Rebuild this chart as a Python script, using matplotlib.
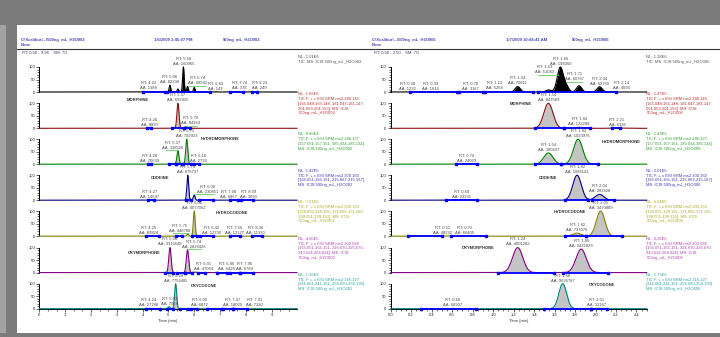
import numpy as np
import matplotlib
matplotlib.use("Agg")
import matplotlib.pyplot as plt
from matplotlib.ticker import MultipleLocator, FixedLocator, FormatStrFormatter

plt.rcParams['font.family'] = ['Liberation Sans', 'DejaVu Sans']

W, H = 720, 337

names = ["TIC", "MORPHINE", "HYDROMORPHONE", "CODEINE", "HYDROCODONE", "OXYMORPHONE", "OXYCODONE"]
trace_colors = ["#000000", "#8b1010", "#008000", "#000080", "#808000", "#800080", "#008080"]
info_colors = ["#505050", "#c03030", "#30a030", "#3838b8", "#a8a820", "#b040b0", "#30a0a0"]

transitions = [
    ["TIC  MS  ICIS {run}"],
    ["TIC F: + c ESI SRM ms2 286.145", "[165.048-165.148, 181.047-181.147,", "201.053-201.153]  MS  ICIS", "{run}"],
    ["TIC F: + c ESI SRM ms2 286.127", "[157.051-157.151, 185.034-185.134]", "MS  ICIS {run}"],
    ["TIC F: + c ESI SRM ms2 300.160", "[165.051-165.151, 215.067-215.167]", "MS  ICIS {run}"],
    ["TIC F: + c ESI SRM ms2 300.133", "[128.055-128.155, 171.066-171.166,", "199.051-199.151]  MS  ICIS", "{run}"],
    ["TIC F: + c ESI SRM ms2 302.086", "[165.051-165.151, 226.670-226.670,", "243.624-264.024]  MS  ICIS", "{run}"],
    ["TIC F: + c ESI SRM ms2 316.127", "[241.061-241.161, 256.090-256.190]", "MS  ICIS {run}"],
]

# ---- run 1 : 500ng_mL_H2O002
run1 = "500ng_mL_H2O002"
run1_file = "C:\\Xcalibur\\...\\500ng_mL_H2O002"
run1_date = "1/6/2009 3:45:07 PM"
run1_range = "RT: 0.00 - 9.96    SM: 7G"
run1_nl = ["1.01E6", "1.66E5", "8.86E4", "1.47E5", "7.01E5", "4.60E5", "1.36E6"]
run1_rt = [
    [4.22, 5.06, 5.37, 5.58, 5.74, 6.00, 6.83, 7.74, 8.23],
    [4.26, 5.37, 5.70],
    [4.28, 5.37, 5.71, 6.18],
    [4.27, 5.75, 6.00, 7.68, 8.09],
    [4.25, 5.75, 6.00, 6.42, 7.56, 8.36],
    [5.06, 5.74, 6.01, 6.86, 7.96],
    [4.24, 5.03, 5.28, 6.00, 7.47, 7.91],
]
run1_height = [
    [2, 27, 12, 100, 22, 18, 1, 2, 1.5],
    [2, 100, 7],
    [2, 53, 100, 2],
    [2, 100, 21, 1.5, 1],
    [2, 10, 100, 1.5, 1.5, 1.5],
    [100, 91, 2, 1, 1],
    [1.5, 8, 100, 1, 1.5, 1],
]
run1_area = [
    ["1388", "82238", None, "160965", "68582", None, "143", "378", "249"],
    ["8870", "692415", "84164"],
    ["20639", "338526", "792923", "2728"],
    ["14697", "876737", "230851", "6867", "3090"],
    ["89824", "448788", "4077062", "12730", "12127", "11330"],
    ["3316648", "2826426", "47064", "6428", "6789"],
    ["27788", "7064", "7754485", "6872", "18020", "7120"],
]
run1_sigma = [0.03, 0.04, 0.04, 0.035, 0.035, 0.045, 0.04]
run1_segments = [
    [(4.03, 4.87), (4.93, 6.61), (7.39, 7.89), (8.23, 8.42)],
    [(4.18, 4.34), (5.15, 5.62), (5.62, 5.82)],
    [(4.20, 4.31), (5.03, 5.30), (5.30, 5.53), (5.55, 5.87), (6.00, 6.18)],
    [(4.20, 4.45), (5.67, 5.88), (6.19, 6.74), (7.39, 7.70), (7.80, 8.29)],
    [(4.12, 4.65), (5.29, 5.51), (5.90, 6.10), (6.22, 6.74), (7.39, 7.77), (8.25, 8.61)],
    [(4.87, 5.19), (5.32, 5.64), (5.64, 5.90), (6.16, 6.42), (6.87, 7.26), (7.39, 7.77), (7.77, 8.29)],
    [(4.12, 4.67), (4.93, 5.19), (5.45, 5.77), (5.86, 6.10), (6.48, 7.06), (7.13, 7.51), (7.51, 8.03)],
]

# ---- run 2 : 500ng_mL_H2O006
run2 = "500ng_mL_H2O006"
run2_file = "C:\\Xcalibur\\...\\500ng_mL_H2O006"
run2_date = "1/7/2009 10:04:41 AM"
run2_range = "RT: 0.00 - 2.50    SM: 7G"
run2_nl = ["1.28E6", "1.47E5", "1.49E5", "2.01E5", "6.64E5", "6.26E5", "1.73E6"]
run2_rt = [
    [0.28, 0.39, 0.78, 1.13, 1.24, 1.54, 1.63, 1.66, 1.71, 1.84, 2.04, 2.14],
    [1.54, 1.84, 2.21],
    [0.74, 1.54, 1.83],
    [0.69, 1.82, 2.04],
    [0.51, 0.72, 1.82, 2.05],
    [1.24, 1.86],
    [0.60, 1.68, 2.01],
]
run2_height = [
    [1, 1, 1, 2, 26, 10, 30, 100, 32, 30, 25, 1.5],
    [100, 4, 1],
    [1.5, 45, 100],
    [1.5, 100, 23],
    [1, 1.5, 12, 100],
    [100, 94],
    [1, 100, 1.5],
]
run2_area = [
    ["1232", "1614", "3167", "5268", "70611", None, "61043", "198060", "60767", None, "62760", "4093"],
    ["847589", "122289", "6136"],
    ["24029", "380437", "1023976"],
    ["23231", "1086141", "283828"],
    ["48232", "66405", "737076", "3470889"],
    ["4001282", "3432829"],
    ["68907", "9626787", "33167"],
]
run2_sigma = [0.025, 0.045, 0.045, 0.042, 0.042, 0.05, 0.038]
run2_segments = [
    [(0.19, 0.65), (0.67, 0.90), (0.92, 1.39), (1.44, 2.20)],
    [(1.41, 1.69), (1.69, 1.95), (2.16, 2.24)],
    [(0.64, 0.84), (1.41, 1.66), (1.66, 2.02)],
    [(0.54, 0.84), (1.70, 1.93), (1.97, 2.18)],
    [(0.17, 0.50), (0.59, 0.93), (1.70, 1.91), (1.91, 2.26)],
    [(1.045, 1.59), (1.685, 2.125)],
    [(0.30, 0.83), (1.50, 1.955), (1.955, 2.11)],
]

# ---- layout (pixels)
ROW_BASE = [92, 128.3, 164.2, 200.2, 236.2, 272.6, 308.7]
INFO_Y = [57, 94.3, 134.3, 171, 202.3, 239, 275]
pages = [
    dict(x0=39.3, ppm=25.82, xmax=9.98, major=1, minor=1 / 3, fmt="%d", side_x=298.5, clip=366,
         hx=[21, 154.5, 222.5], rx=22.5,
         name_pos=[None, (137.7, 100), (220, 139.5), (160, 177.7), (232, 212.7), (144.5, 252.7), (203.7, 286)],
         dx={(0, 5.74): 10, (0, 8.23): 8, (1, 5.70): 4, (2, 5.37): -5, (3, 6.00): 13, (3, 7.68): -9,
             (4, 5.75): -8, (4, 6.42): 6, (5, 5.74): 6, (5, 6.01): 9, (5, 6.86): 10, (6, 6.00): 5, (6, 7.91): 11}),
    dict(x0=390.7, ppm=102.4, xmax=2.5, major=0.2, minor=0.05, fmt="%.1f", side_x=646.5, clip=720,
         hx=[372, 505.7, 572], rx=374,
         name_pos=[None, (520.7, 104.3), (620.8, 141.7), (548, 177.7), (570.3, 211.7), (478.5, 248.3), (602.5, 285)],
         dx={(0, 0.28): -12, (0, 1.13): -12, (0, 1.63): -13, (0, 1.71): 9, (0, 2.14): 12}),
]

fig = plt.figure(figsize=(W / 100, H / 100), dpi=100, facecolor="#7b7b7b")

bg = fig.add_axes([0, 0, 1, 1])
bg.set_xlim(0, W)
bg.set_ylim(H, 0)
bg.axis("off")
bg.add_patch(plt.Rectangle((0, 25), 5.5, 308, color="#a3a3a3", lw=0))
bg.add_patch(plt.Rectangle((17, 25), W - 17, 308, color="white", lw=0))
bg.plot([17, W], [48.5, 48.5], color="#333333", lw=0.8)


def draw_page(p, run, fname, date, rng, nls, rts, heights, areas, sigmas, segs):
    hc = "#4848b8"
    bg.text(p["hx"][0], 40.3, fname, fontsize=3, color=hc, fontweight="bold", va="center")
    bg.text(p["hx"][1], 40.3, date, fontsize=3, color=hc, fontweight="bold", va="center")
    bg.text(p["hx"][2], 40.3, run, fontsize=3, color=hc, fontweight="bold", va="center")
    bg.text(p["hx"][0], 45.3, "None", fontsize=3, color=hc, fontweight="bold", va="center")
    bg.text(p["rx"], 53.3, rng, fontsize=3, color="#40407a", va="center")

    cl = fig.add_axes([0, 0, p["clip"] / W, 1])
    cl.set_xlim(0, p["clip"])
    cl.set_ylim(H, 0)
    cl.axis("off")
    cl.patch.set_alpha(0)

    t = np.linspace(0, p["xmax"], 6000)
    ppm = p["ppm"]
    for i in range(7):
        base = ROW_BASE[i]
        ax = fig.add_axes([p["x0"] / W, 1 - base / H, p["xmax"] * ppm / W, 25 / H])
        ax.set_xlim(0, p["xmax"])
        ax.set_ylim(0, 100)
        ax.patch.set_alpha(0)
        for s in ("top", "right"):
            ax.spines[s].set_visible(False)
        ax.spines["left"].set_linewidth(0.7)
        ax.spines["bottom"].set_linewidth(0.7)

        y = np.zeros_like(t)
        for r, h in zip(rts[i], heights[i]):
            y += h * np.exp(-0.5 * ((t - r) / sigmas[i]) ** 2)
        y *= 100 / y.max()
        ax.fill_between(t, 0, y, color="black" if i == 0 else "#c4c4c4", lw=0)
        ax.plot(t, y, color=trace_colors[i], lw=0.8, clip_on=False, zorder=3)
        for a, b in segs[i]:
            ax.plot([a, b], [0, 0], color="#0000ff", lw=1.3, marker="s", ms=1.7,
                    solid_capstyle="butt", clip_on=False, zorder=4)

        for r, area in zip(rts[i], areas[i]):
            if area is None:
                continue
            apex = float(np.interp(r, t, y))
            dx = p["dx"].get((i, r), 0)
            xl = r + dx / ppm
            ax.annotate(f"RT: {r:.2f}", xy=(xl, apex), xytext=(0, 5.9), textcoords="offset points",
                        ha="center", va="center", fontsize=3, color="#4a4a4a", annotation_clip=False)
            ax.annotate(f"AA: {area}", xy=(xl, apex), xytext=(0, 2.3), textcoords="offset points",
                        ha="center", va="center", fontsize=3, color="#4a4a4a", annotation_clip=False)
            if abs(dx) >= 4 and apex > 4:
                ax.plot([r, xl + np.sign(dx) * 7 / ppm], [apex + 3, apex + 3], color="#66cc66",
                        lw=0.6, clip_on=False, zorder=5)

        ax.yaxis.set_major_locator(FixedLocator([0, 50, 100]))
        ax.yaxis.set_minor_locator(MultipleLocator(10))
        ax.yaxis.set_major_formatter(FormatStrFormatter("%d"))
        ax.tick_params(axis="y", which="major", length=2.2, width=0.5, labelsize=3, pad=0.8, colors="#222222")
        ax.tick_params(axis="y", which="minor", length=1.3, width=0.4)
        if i < 6:
            ax.set_xticks([])
            ax.spines["bottom"].set_visible(False)
        else:
            ax.xaxis.set_major_locator(MultipleLocator(p["major"]))
            ax.xaxis.set_minor_locator(MultipleLocator(p["minor"]))
            ax.xaxis.set_major_formatter(FormatStrFormatter(p["fmt"]))
            ax.tick_params(axis="x", which="major", length=2.2, width=0.5, labelsize=3, pad=1, colors="#222222")
            ax.tick_params(axis="x", which="minor", length=1.5, width=0.4)
            ax.set_xlabel("Time (min)", fontsize=3, labelpad=1.5, color="#333333")

        if p["name_pos"][i] is not None:
            nx, ny = p["name_pos"][i]
            bg.text(nx, ny, names[i], fontsize=3, color="#333333", fontweight="bold", ha="center", va="center")

        lines = ["NL: " + nls[i]] + [s.format(run=run) for s in transitions[i]]
        for k, s in enumerate(lines):
            cl.text(p["side_x"], INFO_Y[i] + k * 4.75, s, fontsize=3, color=info_colors[i],
                    va="center", ha="left", clip_on=True)


draw_page(pages[0], run1, run1_file, run1_date, run1_range, run1_nl, run1_rt, run1_height,
          run1_area, run1_sigma, run1_segments)
draw_page(pages[1], run2, run2_file, run2_date, run2_range, run2_nl, run2_rt, run2_height,
          run2_area, run2_sigma, run2_segments)

fig.savefig("out.png", dpi=100, facecolor=fig.get_facecolor())
